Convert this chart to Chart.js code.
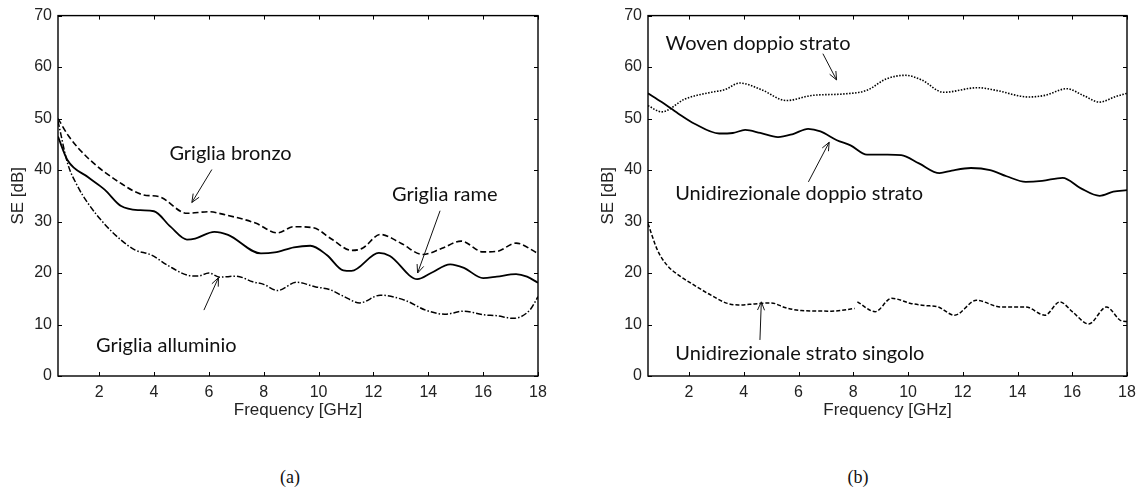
<!DOCTYPE html>
<html>
<head>
<meta charset="utf-8">
<script src="https://cdn.jsdelivr.net/npm/chart.js@4.4.0/dist/chart.umd.min.js"></script>
<style>
  html, body { margin: 0; padding: 0; background: #fff; overflow: hidden; }
  #wrap { position: relative; width: 1145px; height: 496px; }
  canvas { position: absolute; top: 0; }
  #chartA { left: 0; }
  #chartB { left: 590px; }
  .cap { position: absolute; top: 467px; font: 18px "Liberation Serif", serif; color: #111; transform: translateX(-50%); }
</style>
</head>
<body>
<div id="wrap">
  <canvas id="chartA" width="572" height="430"></canvas>
  <canvas id="chartB" width="555" height="430"></canvas>
  <div class="cap" style="left:290px">(a)</div>
  <div class="cap" style="left:858px">(b)</div>
</div>
<script>
// axes
const xTicks = [2, 4, 6, 8, 10, 12, 14, 16, 18];
const yTicks = [0, 10, 20, 30, 40, 50, 60, 70];

// (a) grids
const bronzoFreq = [0.5, 0.9, 1.6, 2.8, 3.6, 4.2, 5.2, 6.0, 6.6, 7.7, 8.5, 9.1, 9.8, 10.5, 11.2, 11.6, 12.25, 13.0, 13.8, 14.5, 15.2, 16.0, 16.5, 17.2, 18.0];
const bronzoSE = [50.0, 46.5, 42.3, 37.4, 35.2, 34.8, 31.6, 31.9, 31.3, 29.7, 27.8, 29.0, 28.8, 26.5, 24.4, 24.8, 27.5, 25.8, 23.6, 24.8, 26.2, 24.1, 24.2, 25.8, 23.8];

const rameFreq = [0.5, 0.85, 1.6, 2.2, 2.8, 3.5, 4.0, 4.6, 5.2, 5.5, 6.2, 6.7, 7.9, 8.4, 9.1, 9.7, 10.3, 10.9, 11.2, 12.2, 12.6, 13.6, 14.1, 14.8, 15.3, 16.0, 16.5, 17.2, 17.6, 18.0];
const rameSE = [46.5, 41.9, 38.6, 36.2, 33.0, 32.2, 32.0, 29.0, 26.5, 26.7, 28.0, 27.4, 23.8, 24.0, 25.0, 25.3, 23.5, 20.5, 20.4, 23.9, 23.3, 18.8, 20.0, 21.7, 21.0, 19.0, 19.3, 19.8, 19.3, 18.1];

const allumFreq = [0.5, 0.85, 1.2, 1.6, 2.2, 2.8, 3.3, 3.9, 4.5, 5.2, 5.6, 6.0, 6.4, 7.0, 7.6, 8.0, 8.5, 9.2, 9.9, 10.4, 10.9, 11.5, 12.25, 13.2, 13.9, 14.6, 15.3, 16.0, 16.5, 17.1, 17.7, 18.0];
const allumSE = [49.5, 41.3, 37.0, 33.5, 29.5, 26.4, 24.5, 23.5, 21.5, 19.6, 19.4, 20.0, 19.2, 19.4, 18.3, 17.8, 16.6, 18.2, 17.3, 16.8, 15.5, 14.2, 15.7, 14.6, 12.8, 12.0, 12.6, 11.9, 11.7, 11.2, 12.8, 15.4];

// (b) composites
const wovenFreq = [0.5, 1.0, 1.85, 2.8, 3.3, 3.85, 4.65, 5.55, 6.5, 7.7, 8.5, 9.2, 9.9, 10.5, 11.3, 12.55, 13.2, 14.4, 15.0, 15.8, 16.4, 17.0, 17.6, 18.0];
const wovenSE = [52.5, 51.3, 53.8, 55.1, 55.6, 56.9, 55.6, 53.5, 54.5, 54.8, 55.5, 57.7, 58.4, 57.5, 55.1, 56.0, 55.5, 54.2, 54.5, 55.8, 54.5, 53.2, 54.3, 54.9];

const udDoppioFreq = [0.5, 1.0, 1.6, 2.2, 3.1, 3.6, 4.05, 4.6, 5.25, 5.8, 6.35, 6.8, 7.4, 7.9, 8.5, 9.25, 9.75, 10.4, 11.15, 11.6, 12.3, 13.0, 13.6, 14.3, 14.9, 15.65, 16.3, 17.0, 17.5, 18.0];
const udDoppioSE = [54.9, 53.2, 51.0, 49.0, 47.1, 47.2, 47.8, 47.2, 46.4, 47.0, 48.0, 47.5, 45.8, 44.8, 43.0, 43.0, 42.9, 41.3, 39.4, 39.9, 40.4, 40.0, 38.8, 37.7, 37.9, 38.5, 36.5, 35.0, 35.8, 36.1];

const udSingoloFreq = [0.5, 0.85, 1.2, 1.7, 2.2, 2.8, 3.4, 3.8, 4.4, 5.0, 5.5, 6.1, 7.2, 8.05, 8.1, 8.15, 8.8, 9.4, 10.1, 10.6, 11.1, 11.7, 12.5, 13.4, 14.3, 15.0, 15.55, 16.0, 16.6, 17.25, 17.8, 18.0];
const udSingoloSE = [29.6, 24.4, 21.5, 19.3, 17.6, 15.7, 14.1, 13.8, 14.0, 14.2, 13.3, 12.7, 12.6, 13.1, null, 14.4, 12.5, 15.1, 14.1, 13.7, 13.4, 11.8, 14.7, 13.4, 13.4, 11.8, 14.4, 12.5, 10.1, 13.4, 10.7, 10.6];

const toPoints = (f, v) => f.map((x, i) => ({ x: x, y: v[i] }));

// frame with inward ticks like the original plot
const boxPlugin = {
    id: "box",
    afterDraw(chart) {
        const { ctx, chartArea: a } = chart;
        const x = chart.scales.x, y = chart.scales.y;
        ctx.save();
        ctx.strokeStyle = "#000";
        ctx.lineWidth = 1.4;
        ctx.strokeRect(a.left, a.top, a.right - a.left, a.bottom - a.top);
        ctx.lineWidth = 1;
        ctx.beginPath();
        xTicks.forEach((t) => {
            const px = Math.round(x.getPixelForValue(t)) + 0.5;
            ctx.moveTo(px, a.bottom); ctx.lineTo(px, a.bottom - 4);
            ctx.moveTo(px, a.top); ctx.lineTo(px, a.top + 4);
        });
        yTicks.forEach((t) => {
            const py = Math.round(y.getPixelForValue(t)) + 0.5;
            ctx.moveTo(a.left, py); ctx.lineTo(a.left + 4, py);
            ctx.moveTo(a.right, py); ctx.lineTo(a.right - 4, py);
        });
        ctx.stroke();
        ctx.restore();
    },
};

// text labels with arrows, placed in data coordinates
const notesPlugin = {
    id: "notes",
    afterDatasetsDraw(chart, args, opts) {
        const { ctx } = chart;
        const x = chart.scales.x, y = chart.scales.y;
        ctx.save();
        ctx.fillStyle = "#111";
        ctx.strokeStyle = "#111";
        ctx.lineWidth = 1;
        ctx.font = '20px "Lato", sans-serif';
        ctx.textAlign = "center";
        ctx.textBaseline = "middle";
        (opts.items || []).forEach((n) => {
            ctx.fillText(n.text, x.getPixelForValue(n.x), y.getPixelForValue(n.y));
            const x1 = x.getPixelForValue(n.from[0]), y1 = y.getPixelForValue(n.from[1]);
            const x2 = x.getPixelForValue(n.to[0]), y2 = y.getPixelForValue(n.to[1]);
            const ang = Math.atan2(y2 - y1, x2 - x1);
            ctx.beginPath();
            ctx.moveTo(x1, y1);
            ctx.lineTo(x2, y2);
            ctx.moveTo(x2 - 9 * Math.cos(ang - 0.4), y2 - 9 * Math.sin(ang - 0.4));
            ctx.lineTo(x2, y2);
            ctx.lineTo(x2 - 9 * Math.cos(ang + 0.4), y2 - 9 * Math.sin(ang + 0.4));
            ctx.stroke();
        });
        ctx.restore();
    },
};

const tickFont = { family: '"Liberation Sans", Arial, sans-serif', size: 16 };
const titleFont = { family: '"Liberation Sans", Arial, sans-serif', size: 17 };

function makeChart(id, datasets, notes, rightPad) {
    return new Chart(document.getElementById(id), {
        type: "line",
        data: { datasets: datasets },
        options: {
            responsive: false,
            animation: false,
            devicePixelRatio: 1,
            layout: { padding: { left: 0, top: 15, right: rightPad, bottom: 0 } },
            elements: { point: { radius: 0 } },
            plugins: { legend: { display: false }, tooltip: { enabled: false }, notes: { items: notes } },
            scales: {
                x: {
                    type: "linear",
                    min: 0.5,
                    max: 18,
                    afterBuildTicks: (s) => { s.ticks = xTicks.map((v) => ({ value: v })); },
                    afterFit: (s) => { s.height = 54; },
                    grid: { display: false, drawTicks: false },
                    border: { display: false },
                    ticks: { font: tickFont, color: "#222", padding: 7, maxRotation: 0 },
                    title: { display: true, text: "Frequency [GHz]", font: titleFont, color: "#222", padding: { top: 0, bottom: 9 } },
                },
                y: {
                    min: 0,
                    max: 70,
                    afterBuildTicks: (s) => { s.ticks = yTicks.map((v) => ({ value: v })); },
                    afterFit: (s) => { s.width = 58; },
                    grid: { display: false, drawTicks: false },
                    border: { display: false },
                    ticks: { font: tickFont, color: "#222", padding: 6 },
                    title: { display: true, text: "SE [dB]", font: titleFont, color: "#222", padding: { top: 8, bottom: 0 } },
                },
            },
        },
        plugins: [boxPlugin, notesPlugin],
    });
}

function line(points, width, dash) {
    return {
        data: points,
        borderColor: "#000",
        borderWidth: width,
        borderDash: dash,
        cubicInterpolationMode: "monotone",
        spanGaps: false,
        fill: false,
    };
}

makeChart("chartA", [
    line(toPoints(bronzoFreq, bronzoSE), 1.6, [6, 3]),
    line(toPoints(rameFreq, rameSE), 1.8, []),
    line(toPoints(allumFreq, allumSE), 1.5, [6, 2, 1.5, 2]),
], [
    { text: "Griglia bronzo", x: 6.79, y: 43.2, from: [6.11, 40.1], to: [5.38, 33.7] },
    { text: "Griglia rame", x: 14.6, y: 35.3, from: [14.43, 32.1], to: [13.61, 20.0] },
    { text: "Griglia alluminio", x: 4.45, y: 6.0, from: [5.82, 12.8], to: [6.35, 19.1] },
], 34);

makeChart("chartB", [
    line(toPoints(wovenFreq, wovenSE), 1.6, [1.5, 1.5]),
    line(toPoints(udDoppioFreq, udDoppioSE), 1.8, []),
    line(toPoints(udSingoloFreq, udSingoloSE), 1.5, [4, 2]),
], [
    { text: "Woven doppio strato", x: 4.52, y: 64.6, from: [6.89, 62.6], to: [7.39, 57.5] },
    { text: "Unidirezionale doppio strato", x: 6.02, y: 35.5, from: [6.36, 37.7], to: [7.12, 45.4] },
    { text: "Unidirezionale strato singolo", x: 6.05, y: 4.4, from: [4.59, 7.0], to: [4.64, 14.4] },
], 18);
</script>
</body>
</html>
